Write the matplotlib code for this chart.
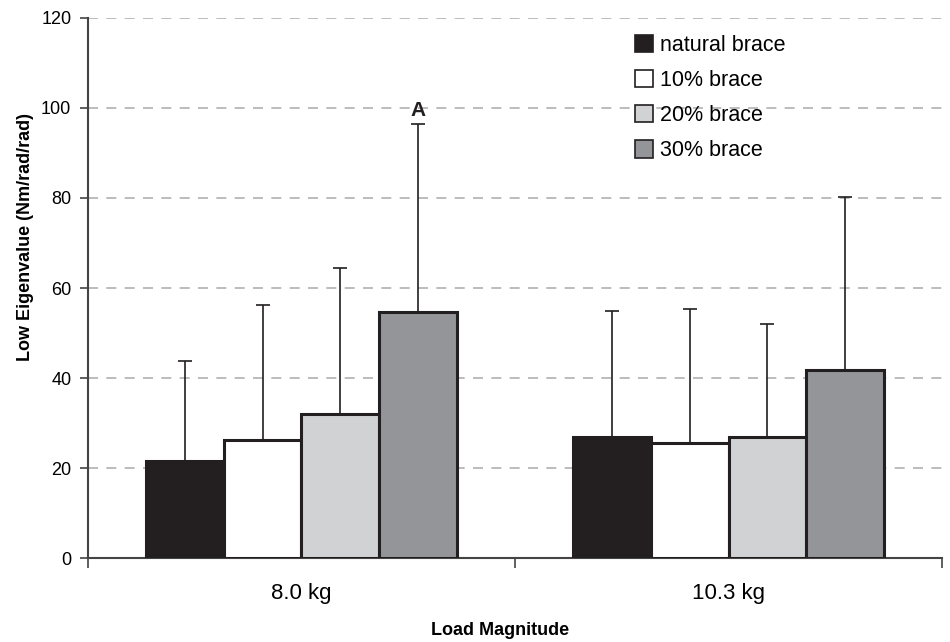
import matplotlib
matplotlib.use("Agg")
import matplotlib.pyplot as plt
import numpy as np
from matplotlib.patches import Patch

plt.rcParams['font.family'] = ['Liberation Sans', 'DejaVu Sans']

groups = ["8.0 kg", "10.3 kg"]
series = ["natural brace", "10% brace", "20% brace", "30% brace"]
means = {
    "natural brace": [21.6, 26.9],
    "10% brace": [26.2, 25.6],
    "20% brace": [32.0, 26.9],
    "30% brace": [54.7, 41.8],
}
err_tops = {
    "natural brace": [43.8, 54.9],
    "10% brace": [56.2, 55.3],
    "20% brace": [64.4, 52.0],
    "30% brace": [96.4, 80.2],
}
colors = ["#231f20", "#ffffff", "#d1d2d4", "#939598"]
edge = "#231f20"

fig = plt.figure(figsize=(9.5, 6.42), dpi=100)
ax = fig.add_axes([0.0926, 0.1308, 0.8990, 0.8412])

x = np.arange(len(groups))
bw = 0.1825
for i, s in enumerate(series):
    pos = x + (i - 1.5) * bw
    m = np.array(means[s])
    e = np.array(err_tops[s]) - m
    ax.bar(pos, m, width=bw, color=colors[i], edgecolor=edge, linewidth=2.2, zorder=3)
    ax.errorbar(pos, m, yerr=[np.zeros_like(e), e], fmt='none', ecolor="#231f20",
                elinewidth=1.2, capsize=5, capthick=1.2, zorder=2)

ax.text(x[0] + 1.5 * bw, err_tops["30% brace"][0] + 1.0, "A", ha='center', va='bottom',
        fontsize=15, fontweight='bold', color="#231f20")

ax.set_xlim(-0.5, 1.5)
ax.set_ylim(0, 120)
ax.set_yticks(np.arange(0, 121, 20))
ax.yaxis.grid(True, linestyle=(0, (6, 5)), color="#b0b0b0", linewidth=1.2, zorder=0)
ax.set_axisbelow(True)

ax.set_xticks(x)
ax.set_xticklabels(groups, fontsize=16)
ax.set_xticks([-0.5, 0.5, 1.5], minor=True)
ax.tick_params(axis='x', which='major', length=0, pad=18)
ax.tick_params(axis='x', which='minor', length=7, width=1.2, color="#444444")
ax.tick_params(axis='y', length=6, width=1.2, color="#444444", labelsize=13, pad=6)

for sp in ['top', 'right']:
    ax.spines[sp].set_visible(False)
for sp in ['left', 'bottom']:
    ax.spines[sp].set_color("#444444")
    ax.spines[sp].set_linewidth(1.5)

ax.set_ylabel("Low Eigenvalue (Nm/rad/rad)", fontsize=13, fontweight='bold')
ax.yaxis.set_label_coords(-0.063, 0.594)
ax.set_xlabel("Load Magnitude", fontsize=13, fontweight='bold')
ax.xaxis.set_label_coords(0.482, -0.118)

handles = [Patch(facecolor=colors[i], edgecolor=edge, linewidth=1.2, label=s) for i, s in enumerate(series)]
leg = ax.legend(handles=handles, loc='upper left', bbox_to_anchor=(0.640, 0.968), frameon=False,
                fontsize=15.5, handlelength=0.85, handleheight=0.85, handletextpad=0.35,
                labelspacing=0.65, borderaxespad=0, borderpad=0)

fig.savefig("out.png", dpi=100)
